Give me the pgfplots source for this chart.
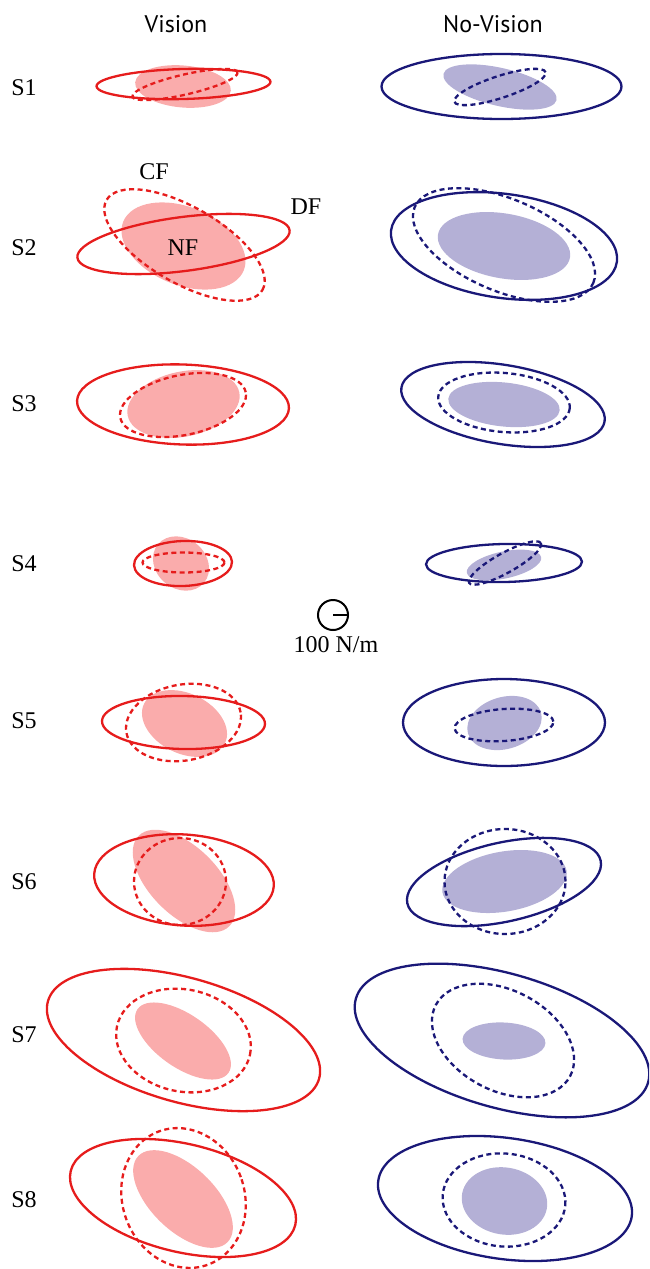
\documentclass[border=0pt]{standalone}
\usepackage{pgfplots}
\pgfplotsset{compat=1.18}
\usepackage{fontspec}
\setmainfont{Liberation Serif}
\newfontfamily\titlefont{PT Sans}
\definecolor{rline}{RGB}{230,28,28}
\definecolor{rfill}{RGB}{250,172,172}
\definecolor{bline}{RGB}{26,24,120}
\definecolor{bfill}{RGB}{180,176,214}
\tikzset{
  rs/.style={draw=rline, line width=2.3pt},
  rd/.style={draw=rline, line width=2.3pt, dash pattern=on 5pt off 3.5pt},
  rf/.style={fill=rfill, draw=none},
  bs/.style={draw=bline, line width=2.3pt},
  bd/.style={draw=bline, line width=2.3pt, dash pattern=on 5pt off 3.5pt},
  bf/.style={fill=bfill, draw=none},
  lab/.style={font=\fontsize{24}{28}\selectfont, inner sep=0pt},
  tit/.style={font=\titlefont\fontsize{24}{28}\selectfont, inner sep=0pt}
}
% ellipse: style, cx, cy, x radius, y radius, angle (counter-clockwise)
\newcommand{\Ell}[6]{\draw[#1, rotate around={#6:(axis cs:#2,#3)}] (axis cs:#2,#3) ellipse [x radius=#4pt, y radius=#5pt];}
\begin{document}
\begin{tikzpicture}
\begin{axis}[width=649pt, height=1269pt, scale only axis,
  xmin=0, xmax=649, ymin=0, ymax=1269, y dir=reverse, hide axis]
\addplot[draw=none] coordinates {(0,0) (649,1269)};
% titles
\node[tit] at (axis cs:176,24) {Vision};
\node[tit] at (axis cs:493,24) {No-Vision};
% row labels
\node[lab] at (axis cs:24,88) {S1};
\node[lab] at (axis cs:24,248) {S2};
\node[lab] at (axis cs:24,404) {S3};
\node[lab] at (axis cs:24,564) {S4};
\node[lab] at (axis cs:24,721) {S5};
\node[lab] at (axis cs:24,882) {S6};
\node[lab] at (axis cs:24,1035) {S7};
\node[lab] at (axis cs:24,1200) {S8};
% S1
\Ell{rf}{183}{86.5}{48}{21}{-5}
\Ell{rd}{185}{84.5}{54}{10}{13}
\Ell{rs}{183.5}{84}{87}{15}{1.5}
\Ell{bf}{500}{87}{58}{19}{-13}
\Ell{bd}{500}{87}{48}{11}{18}
\Ell{bs}{501.5}{86.5}{120}{32.5}{0}
% S2
\Ell{rf}{183.5}{246}{65}{39}{-22}
\Ell{rd}{184.5}{245}{90}{38}{-30}
\Ell{rs}{183.5}{244}{107}{27}{7.4}
\Ell{bf}{504}{246}{67}{32.4}{-10}
\Ell{bd}{504}{245}{97}{46}{-23}
\Ell{bs}{504}{246}{114}{52}{-8}
\node[lab] at (axis cs:154,172) {CF};
\node[lab] at (axis cs:306,207) {DF};
\node[lab] at (axis cs:183,248) {NF};
% S3
\Ell{rf}{183.5}{404}{57}{32.5}{12}
\Ell{rd}{183}{405}{64}{30}{11.5}
\Ell{rs}{183}{404.5}{106}{40}{-2}
\Ell{bf}{504}{404.5}{56}{22}{-6}
\Ell{bd}{504}{402.5}{66}{29.5}{-5}
\Ell{bs}{503}{404.5}{103}{39.5}{-9.5}
% S4
\Ell{rf}{181}{563.5}{30}{25}{-40}
\Ell{rd}{183.5}{562.5}{41}{10}{0}
\Ell{rs}{183}{563.5}{49}{22.5}{2}
\Ell{bf}{504}{565}{38}{13.5}{12}
\Ell{bd}{505}{563}{41}{10}{29}
\Ell{bs}{504}{563}{78}{19}{1}
% scale
\draw[black, line width=2pt] (axis cs:333,615) circle [radius=15pt];
\draw[black, line width=2pt] (axis cs:333,615) -- (axis cs:348,615);
\node[lab] at (axis cs:336,645) {100 N/m};
% S5
\Ell{rf}{184.5}{723.5}{45}{30}{-26}
\Ell{rd}{183.5}{722.5}{58}{38}{10}
\Ell{rs}{183.5}{722.5}{81.5}{26.5}{-1}
\Ell{bf}{504.5}{723}{38}{26}{16}
\Ell{bd}{504}{725}{49.5}{16}{4}
\Ell{bs}{504}{722.5}{101}{43.5}{0}
% S6
\Ell{rf}{184}{881}{64}{34}{-45}
\Ell{rd}{180}{881.5}{46}{43.5}{0}
\Ell{rs}{184}{880}{90}{45.5}{-4}
\Ell{bf}{504.5}{881.5}{63}{30}{10}
\Ell{bd}{505}{881.5}{60.5}{52.5}{0}
\Ell{bs}{504}{882}{99}{39.5}{12.5}
% S7
\Ell{rf}{183}{1041}{55.5}{26.5}{-35}
\Ell{rd}{183.5}{1040.5}{68}{51}{-12}
\Ell{rs}{183.5}{1040}{141}{62}{-16}
\Ell{bf}{504}{1041}{41.5}{18.5}{-3}
\Ell{bd}{503}{1040.5}{76}{50}{-28}
\Ell{bs}{502}{1040.5}{152}{67}{-16}
% S8
\Ell{rf}{183}{1199}{62}{32}{-44}
\Ell{rd}{183.5}{1198}{61}{71}{20}
\Ell{rs}{183}{1198}{115.5}{54}{-13.5}
\Ell{bf}{504.5}{1201}{43}{33.5}{-10}
\Ell{bd}{504}{1200}{61.5}{46.5}{-5}
\Ell{bs}{505}{1198.5}{128}{60.5}{-8}
\end{axis}
\pgfresetboundingbox
\path (current axis.south west) rectangle (current axis.north east);
\end{tikzpicture}
\end{document}
